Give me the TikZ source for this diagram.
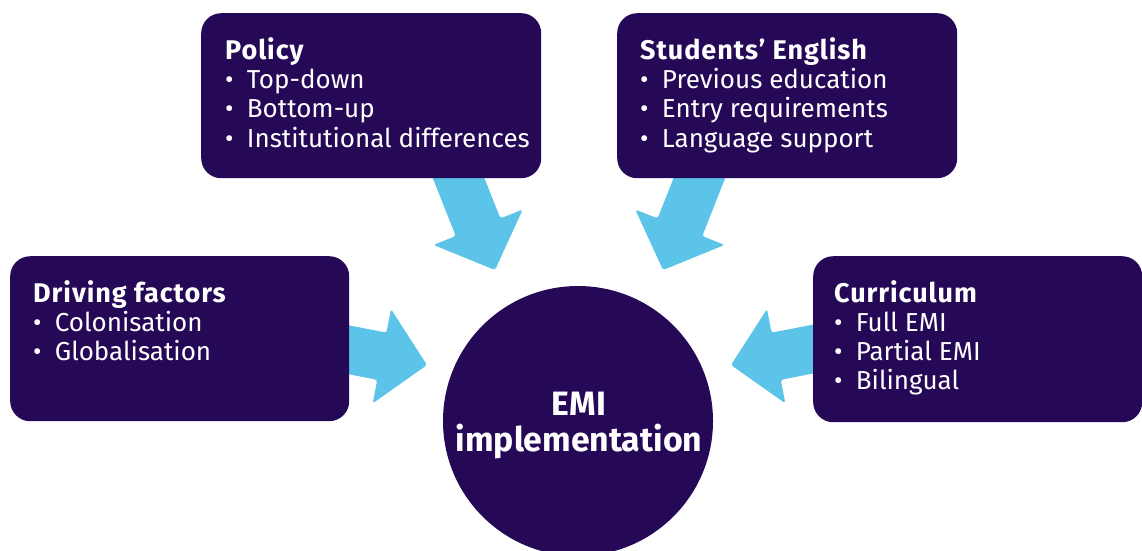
\documentclass[tikz,border=0pt]{standalone}
\usepackage{fontspec}
\setmainfont{Fira Sans}
\newfontfamily\emititle[LetterSpace=3.5]{Fira Sans}
\definecolor{emipurple}{RGB}{37,9,87}
\definecolor{emiblue}{RGB}{91,196,232}
\newcommand\emibul[1]{\makebox[21.7pt][l]{•}#1}
\begin{document}
\begin{tikzpicture}[x=1pt,y=-1pt,
  boxshape/.style={rectangle, fill=emipurple, rounded corners=20pt, inner sep=0pt, anchor=north west},
  ttl/.style={anchor=base west, inner sep=0pt, text=white, font=\emititle\fontsize{27}{29}\selectfont\bfseries},
  itm/.style={anchor=base west, inner sep=0pt, text=white, font=\fontsize{26}{29}\selectfont},
  ctr/.style={anchor=base, inner sep=0pt, text=white, font=\fontsize{33.8}{36}\selectfont\bfseries},
  blockarrow/.pic={\fill[emiblue, rounded corners=2.5pt] (0,0) -- (-46,-48) -- (-46,-24) -- (-#1,-24) -- (-#1,24) -- (-46,24) -- (-46,48) -- cycle;}
]
\clip (0,0) rectangle (1142,550);
\fill[white] (0,0) rectangle (1142,550);
% tips of the arrows
\coordinate (tipP) at (495,270);
\coordinate (tipS) at (663,270);
\coordinate (tipD) at (427,365);
\coordinate (tipC) at (731,365);
\pic[rotate=-68.4] at (tipP) {blockarrow=130};
\pic[rotate=-111.6] at (tipS) {blockarrow=130};
\pic[rotate=-11] at (tipD) {blockarrow=110};
\pic[rotate=-169] at (tipC) {blockarrow=110};
% boxes
\node[boxshape, minimum width=340pt, minimum height=165pt] (policy) at (201,13) {};
\node[boxshape, minimum width=340pt, minimum height=165pt] (students) at (617,13) {};
\node[boxshape, minimum width=339pt, minimum height=165pt] (driving) at (10,256) {};
\node[boxshape, minimum width=329pt, minimum height=166pt] (curric) at (813,256) {};
\node[circle, fill=emipurple, inner sep=0pt, minimum size=270pt] (emi) at (578,421) {};
% texts
\node[ttl] (policy-t) at (225,59.3) {Policy};
\node[itm] (policy-1) at (225,88.3) {\emibul{Top-down}};
\node[itm] (policy-2) at (225,117.6) {\emibul{Bottom-up}};
\node[itm] (policy-3) at (225,147) {\emibul{Institutional differences}};
\node[ttl] (students-t) at (640,59.3) {Students’ English};
\node[itm] (students-1) at (640,88.3) {\emibul{Previous education}};
\node[itm] (students-2) at (640,117.6) {\emibul{Entry requirements}};
\node[itm] (students-3) at (640,147) {\emibul{Language support}};
\node[ttl] (driving-t) at (33,302) {Driving factors};
\node[itm] (driving-1) at (33,331) {\emibul{Colonisation}};
\node[itm] (driving-2) at (33,360) {\emibul{Globalisation}};
\node[ttl] (curric-t) at (834,302) {Curriculum};
\node[itm] (curric-1) at (834,331) {\emibul{Full EMI}};
\node[itm] (curric-2) at (834,360) {\emibul{Partial EMI}};
\node[itm] (curric-3) at (834,389) {\emibul{Bilingual}};
\node[ctr] (emi-1) at (579,415.7) {EMI};
\node[ctr] (emi-2) at (579,451.7) {implementation};
\end{tikzpicture}
\end{document}
